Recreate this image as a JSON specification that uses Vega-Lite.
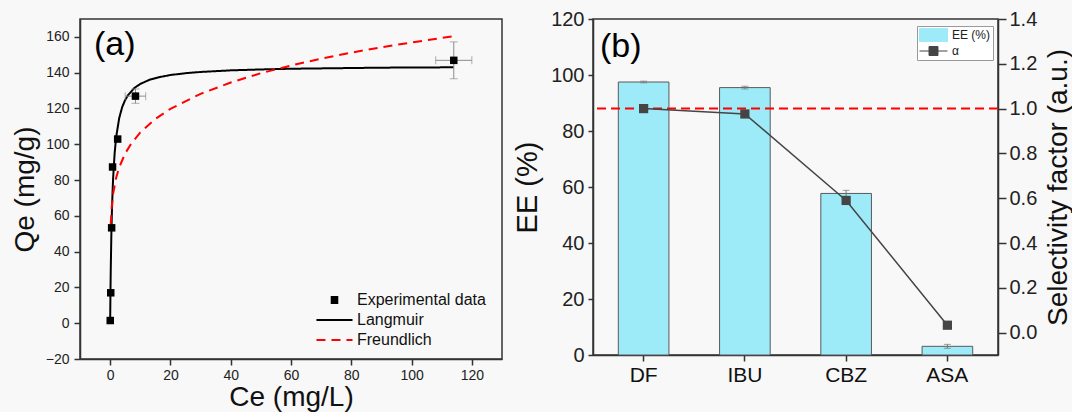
{
  "$schema": "https://vega.github.io/schema/vega-lite/v6.json",
  "background": "#f8f8f8",
  "padding": {"left": 10, "top": 8, "right": 0, "bottom": 0},
  "config": {
    "font": "Liberation Sans",
    "view": {"stroke": "#333333", "strokeWidth": 1.5},
    "axis": {"grid": false, "domainColor": "#333333", "domainWidth": 1.5, "tickColor": "#333333", "tickWidth": 1.5, "labelColor": "#222222", "titleColor": "#111111", "titleFontWeight": "normal", "labelFont": "Liberation Sans", "titleFont": "Liberation Sans"},
    "legend": {"labelFont": "Liberation Sans"},
    "title": {"font": "Liberation Sans", "fontWeight": "normal", "color": "#111111"}
  },
  "datasets": {
    "exp": [
      {"C": 0.03, "q": 1.5},
      {"C": 0.2, "q": 17},
      {"C": 0.5, "q": 53.3},
      {"C": 0.8, "q": 87.3},
      {"C": 2.5, "q": 102.9},
      {"C": 8.4, "q": 126.9},
      {"C": 114, "q": 146.9}
    ],
    "err": [
      {"C": 8.4, "q": 126.9, "dC": 3.4, "dq": 4},
      {"C": 114, "q": 146.9, "dC": 6, "dq": 10.3}
    ],
    "langmuir": [
      {"C": 0, "q": 0}, {"C": 0.1, "q": 16.6}, {"C": 0.2, "q": 29.7}, {"C": 0.4, "q": 49.3},
      {"C": 0.6, "q": 63.1}, {"C": 0.8, "q": 73.4}, {"C": 1, "q": 81.4}, {"C": 1.5, "q": 95.2},
      {"C": 2, "q": 104}, {"C": 3, "q": 114.6}, {"C": 4, "q": 120.8}, {"C": 5, "q": 124.8},
      {"C": 6, "q": 127.6}, {"C": 8, "q": 131.4}, {"C": 10, "q": 133.7}, {"C": 13, "q": 136},
      {"C": 16, "q": 137.4}, {"C": 20, "q": 138.7}, {"C": 25, "q": 139.7}, {"C": 30, "q": 140.4},
      {"C": 40, "q": 141.3}, {"C": 50, "q": 141.8}, {"C": 60, "q": 142.2}, {"C": 70, "q": 142.4},
      {"C": 80, "q": 142.6}, {"C": 90, "q": 142.8}, {"C": 100, "q": 142.9}, {"C": 114, "q": 143}
    ],
    "freundlich": [
      {"C": 0.2, "q": 55.3}, {"C": 0.5, "q": 64.4}, {"C": 1, "q": 72.4}, {"C": 2, "q": 81.3},
      {"C": 3, "q": 87.1}, {"C": 5, "q": 94.9}, {"C": 7, "q": 100.4}, {"C": 10, "q": 106.6},
      {"C": 15, "q": 114.1}, {"C": 20, "q": 119.8}, {"C": 30, "q": 128.2}, {"C": 40, "q": 134.5},
      {"C": 50, "q": 139.7}, {"C": 60, "q": 144}, {"C": 70, "q": 147.8}, {"C": 80, "q": 151.2},
      {"C": 90, "q": 154.2}, {"C": 100, "q": 156.9}, {"C": 114, "q": 160.4}
    ],
    "sel": [
      {"drug": "DF", "EE": 97.5, "EE_err": 0.3, "alpha": 1.0},
      {"drug": "IBU", "EE": 95.5, "EE_err": 0.5, "alpha": 0.976},
      {"drug": "CBZ", "EE": 57.7, "EE_err": 1.1, "alpha": 0.59},
      {"drug": "ASA", "EE": 3.1, "EE_err": 0.7, "alpha": 0.033}
    ]
  },
  "hconcat": [
    {
      "width": 422,
      "height": 340,
      "title": {"text": "(a)", "anchor": "start", "frame": "group", "fontSize": 34, "offset": -43, "dx": 14, "color": "#000000"},
      "encoding": {
        "x": {"field": "C", "type": "quantitative", "scale": {"domain": [-10, 130], "nice": false, "zero": false},
              "axis": {"values": [0, 20, 40, 60, 80, 100, 120], "tickSize": 6, "labelFontSize": 14, "labelPadding": 3, "title": "Ce (mg/L)", "titleFontSize": 28, "titlePadding": 1}},
        "y": {"field": "q", "type": "quantitative", "scale": {"domain": [-20, 170], "nice": false, "zero": false},
              "axis": {"values": [-20, 0, 20, 40, 60, 80, 100, 120, 140, 160], "tickSize": 6, "labelFontSize": 14, "labelPadding": 5, "title": "Qe (mg/g)", "titleFontSize": 28, "titlePadding": 6}}
      },
      "layer": [
        {"data": {"name": "langmuir"}, "mark": {"type": "line", "strokeWidth": 2},
         "encoding": {
           "color": {"datum": "Langmuir",
             "scale": {"domain": ["Experimental data", "Langmuir", "Freundlich"], "range": ["#000000", "#000000", "#ff0000"]},
             "legend": {"title": null, "orient": "none", "legendX": 235, "legendY": 273, "labelFontSize": 16, "labelColor": "#111111", "symbolSize": 1300, "symbolStrokeWidth": 2, "clipHeight": 16, "rowPadding": 4, "labelOffset": 3, "padding": 0}},
           "strokeDash": {"datum": "Langmuir",
             "scale": {"domain": ["Experimental data", "Langmuir", "Freundlich"], "range": [[1, 0], [1, 0], [9, 6]]},
             "legend": {"title": null}}
         }},
        {"data": {"name": "freundlich"}, "mark": {"type": "line", "strokeWidth": 2},
         "encoding": {"color": {"datum": "Freundlich"}, "strokeDash": {"datum": "Freundlich"}}},
        {"data": {"name": "err"}, "mark": {"type": "errorbar", "color": "#8c8c8c", "thickness": 1, "ticks": {"size": 8, "thickness": 1}}, "encoding": {"xError": {"field": "dC"}}},
        {"data": {"name": "err"}, "mark": {"type": "errorbar", "color": "#8c8c8c", "thickness": 1, "ticks": {"size": 8, "thickness": 1}}, "encoding": {"yError": {"field": "dq"}}},
        {"data": {"name": "exp"}, "mark": {"type": "point", "shape": "square", "filled": true, "size": 56, "opacity": 1, "color": "#000000"}},
        {"data": {"name": "exp"}, "mark": {"type": "point", "filled": false, "size": 0, "opacity": 1},
         "encoding": {"shape": {"datum": "Experimental data",
           "scale": {"domain": ["Experimental data", "Langmuir", "Freundlich"], "range": ["M-0.21,-0.16H0.21M-0.21,-0.053H0.21M-0.21,0.053H0.21M-0.21,0.16H0.21", "M-1,0H1", "M-1,0H1"]},
           "legend": {"title": null}}}}
      ]
    },
    {
      "width": 405,
      "height": 336,
      "title": {"text": "(b)", "anchor": "start", "frame": "group", "fontSize": 34, "offset": -55, "dx": 7, "color": "#000000"},
      "data": {"name": "sel"},
      "layer": [
        {"mark": {"type": "bar", "stroke": "#5a5a5a", "strokeWidth": 1},
         "encoding": {
           "x": {"field": "drug", "type": "nominal", "sort": null, "title": null, "scale": {"paddingInner": 0.5, "paddingOuter": 0.25},
                 "axis": {"labelAngle": 0, "labelFontSize": 21, "labelPadding": 3, "tickSize": 6, "labelColor": "#111111"}},
           "y": {"field": "EE", "type": "quantitative", "title": "EE (%)", "scale": {"domain": [0, 120], "nice": false},
                 "axis": {"orient": "left", "values": [0, 20, 40, 60, 80, 100, 120], "tickSize": 5, "labelFontSize": 20, "labelPadding": 4, "titleFontSize": 29, "titlePadding": 8}},
           "color": {"datum": "EE (%)", "scale": {"domain": ["EE (%)", "α"], "range": ["#9deaf8", "#454545"]},
             "legend": {"title": null, "orient": "none", "legendX": 324, "legendY": 7, "labelFontSize": 12, "labelColor": "#222222", "symbolSize": 784, "symbolStrokeWidth": 1, "clipHeight": 14, "rowPadding": 2, "labelOffset": 4, "padding": 2, "strokeColor": "#9a9a9a", "fillColor": "#ffffff", "symbolOpacity": 1}}
         }},
        {"mark": {"type": "errorbar", "color": "#777777", "thickness": 1, "ticks": {"size": 7, "thickness": 1}},
         "encoding": {
           "x": {"field": "drug", "type": "nominal", "sort": null, "title": null},
           "y": {"field": "EE", "type": "quantitative", "title": "EE (%)", "scale": {"domain": [0, 120], "nice": false}, "axis": null},
           "yError": {"field": "EE_err"}
         }},
        {"data": {"values": [{"ref": 1}]},
         "mark": {"type": "rule", "color": "#ff0000", "strokeWidth": 2, "strokeDash": [9, 5]},
         "encoding": {"y": {"field": "ref", "type": "quantitative", "title": "Selectivity factor (a.u.)", "scale": {"domain": [-0.1, 1.4], "nice": false, "zero": false},
           "axis": {"orient": "right", "values": [0, 0.2, 0.4, 0.6, 0.8, 1.0, 1.2, 1.4], "format": ".1f", "tickSize": 8, "labelFontSize": 20, "labelPadding": 3, "titleFontSize": 28, "titlePadding": 8, "titleAngle": -90, "titleBaseline": "top"}}}},
        {"mark": {"type": "line", "strokeWidth": 1.5},
         "encoding": {
           "x": {"field": "drug", "type": "nominal", "sort": null, "title": null},
           "y": {"field": "alpha", "type": "quantitative", "title": "Selectivity factor (a.u.)", "scale": {"domain": [-0.1, 1.4], "nice": false, "zero": false}, "axis": null},
           "order": {"value": null},
           "color": {"datum": "α"}
         }},
        {"mark": {"type": "point", "shape": "square", "filled": true, "size": 85, "opacity": 1},
         "encoding": {
           "x": {"field": "drug", "type": "nominal", "sort": null, "title": null},
           "y": {"field": "alpha", "type": "quantitative", "title": "Selectivity factor (a.u.)", "scale": {"domain": [-0.1, 1.4], "nice": false, "zero": false}, "axis": null},
           "color": {"datum": "α"}
         }},
        {"mark": {"type": "point", "filled": true, "size": 0, "opacity": 1},
         "encoding": {
           "x": {"field": "drug", "type": "nominal", "sort": null, "title": null},
           "y": {"field": "alpha", "type": "quantitative", "title": "Selectivity factor (a.u.)", "scale": {"domain": [-0.1, 1.4], "nice": false, "zero": false}, "axis": null},
           "shape": {"datum": "α", "scale": {"domain": ["EE (%)", "α"], "range": ["M-1,-0.48H1V0.48H-1Z", "M-1,0H1M-0.32,-0.32H0.32V0.32H-0.32Z"]}, "legend": {"title": null}}
         }}
      ],
      "resolve": {"scale": {"y": "independent"}}
    }
  ],
  "spacing": 9,
  "resolve": {"scale": {"color": "independent", "shape": "independent", "strokeDash": "independent"}, "legend": {"color": "independent", "shape": "independent", "strokeDash": "independent"}}
}
